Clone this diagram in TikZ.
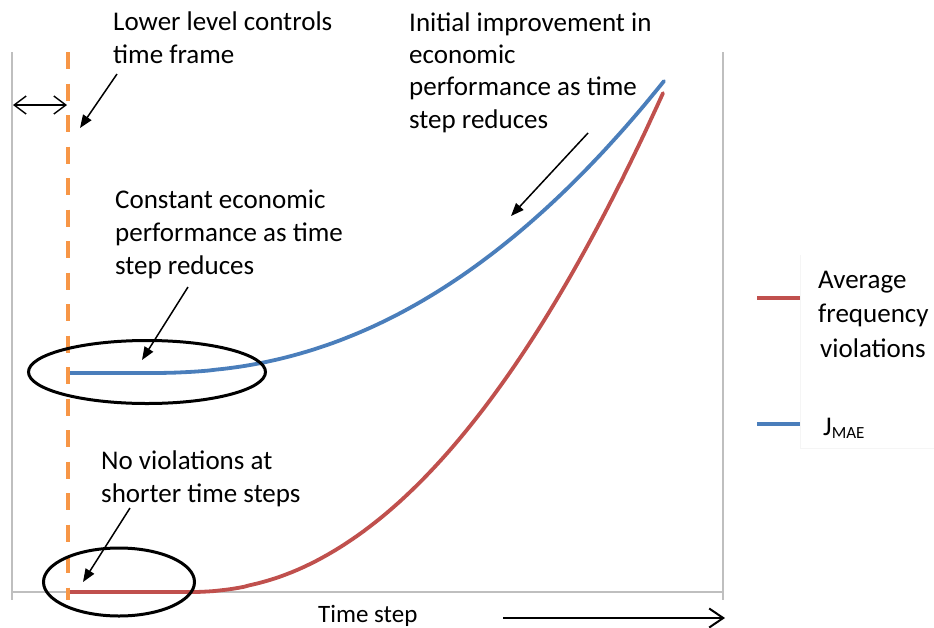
\documentclass[tikz,border=0pt]{standalone}
\usepackage{fontspec}
\setmainfont{Carlito}
\usetikzlibrary{arrows.meta,shapes.geometric}
\definecolor{cblue}{HTML}{4A7EBB}
\definecolor{cred}{HTML}{C0504D}
\definecolor{corange}{HTML}{F79646}
\definecolor{caxis}{HTML}{BFBFBF}
\begin{document}
\begin{tikzpicture}[x=1pt,y=-1pt,
  lbl/.style={anchor=base west,inner sep=0pt,align=left,font=\fontsize{27}{32.3}\selectfont},
  note/.style={-{Triangle[length=13pt,width=10pt]},line width=1.5pt},
  curve/.style={line width=3.8pt,line cap=round,line join=round},
  ring/.style={draw,ellipse,line width=3pt,inner sep=0pt,outer sep=0pt},
  axisline/.style={draw=caxis,line width=1.5pt}]
\useasboundingbox (0,0) rectangle (934,627);
% frame
\draw[axisline] (12,52) -- (12,600);
\draw[axisline] (723,52) -- (723,600);
\draw[axisline] (12,592) -- (723,592);
% faint legend box
\draw[black!4,line width=0.8pt] (800,255) -- (800,448) -- (934,448);
% curves
\draw[curve,cred] (70,592) -- (190,592) -- plot[domain=190:663,samples=80] (\x,{592-499*pow((\x-190)/473,2.1)});
\draw[curve,cblue] (70,373) -- (150,373) -- plot[domain=150:664,samples=80] (\x,{373-292*pow((\x-150)/514,2.2)});
% orange dashed line
\draw[corange,line width=4pt,dash pattern=on 17pt off 14.5pt] (68,52) -- (68,600);
% ellipses
\node[ring,minimum width=237pt,minimum height=63pt] (e1) at (147,372) {};
\node[ring,minimum width=151pt,minimum height=68pt] (e2) at (119,582) {};
% texts (anchor at baseline of last line)
\node[lbl] (t1) at (113,63) {Lower level controls\\time frame};
\node[lbl] (t2) at (409,128) {Initial improvement in\\economic\\performance as time\\step reduces};
\node[lbl,font=\fontsize{27}{33}\selectfont] (t3) at (115,274) {Constant economic\\performance as time\\step reduces};
\node[lbl] (t4) at (101,502) {No violations at\\shorter time steps};
\node[lbl,font=\fontsize{27}{34.5}\selectfont] (t5) at (818,357) {Average\\frequency\\\hspace*{2pt}violations};
\node[lbl] (t6) at (823,435) {J\raisebox{-3pt}{\fontsize{17}{17}\selectfont MAE}};
\node[lbl,font=\fontsize{25}{30}\selectfont] (t7) at (318,622) {Time step};
% legend lines
\coordinate (lr1) at (757,298); \coordinate (lr2) at (800,298);
\coordinate (lb1) at (757,424); \coordinate (lb2) at (800,424);
\draw[cred,line width=4pt] (lr1) -- (lr2);
\draw[cblue,line width=4pt] (lb1) -- (lb2);
% arrows
\coordinate (a1s) at (117,74); \coordinate (a1e) at (80,128);
\coordinate (a2s) at (588,133); \coordinate (a2e) at (511,216);
\coordinate (a3s) at (188,287); \coordinate (a3e) at (142,360);
\coordinate (a4s) at (130,508); \coordinate (a4e) at (83,582);
\draw[note] (a1s) -- (a1e);
\draw[note] (a2s) -- (a2e);
\draw[note] (a3s) -- (a3e);
\draw[note] (a4s) -- (a4e);
\coordinate (d1) at (13,105); \coordinate (d2) at (67,105);
\draw[{Straight Barb[length=12pt,width=18pt]}-{Straight Barb[length=12pt,width=18pt]},line width=1.4pt] (d1) -- (d2);
\coordinate (ts1) at (503,618); \coordinate (ts2) at (725,618);
\draw[-{Straight Barb[length=14pt,width=19pt]},line width=2pt] (ts1) -- (ts2);
\end{tikzpicture}
\end{document}
